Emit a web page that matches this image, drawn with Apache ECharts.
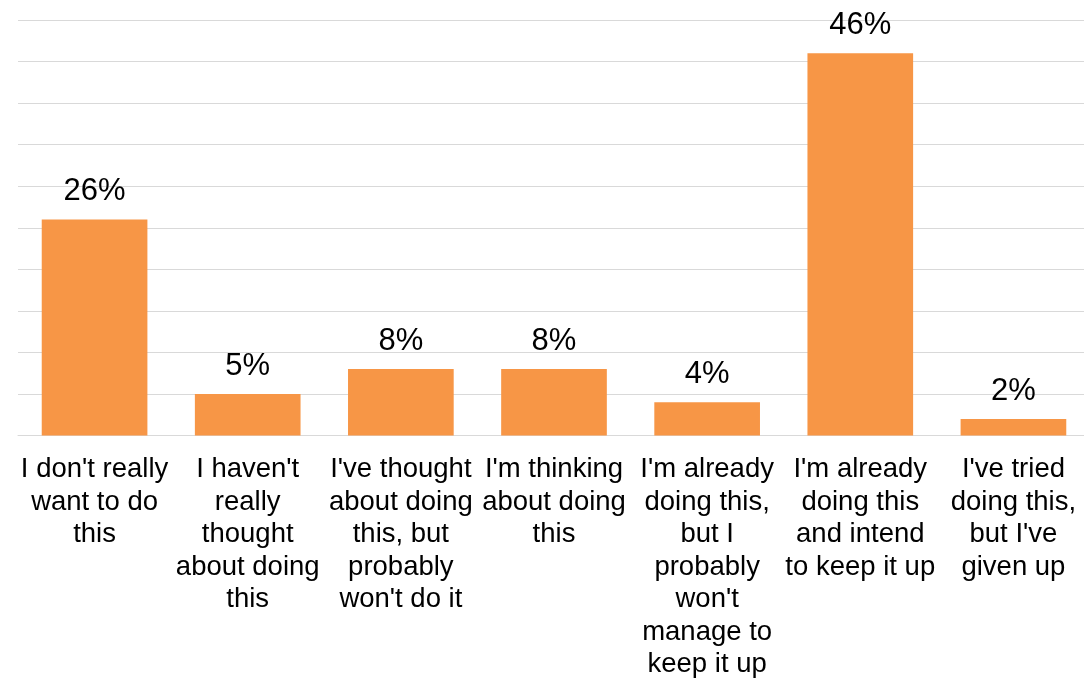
<!DOCTYPE html>
<html>
<head>
<meta charset="utf-8">
<script src="https://cdn.jsdelivr.net/npm/echarts@6/dist/echarts.min.js"></script>
<style>
  html, body { margin: 0; padding: 0; background: #ffffff; overflow: hidden; }
  /* the plot runs a few pixels past the right edge of the window */
  #chart { width: 1090px; height: 681px; }
</style>
</head>
<body>
<div id="chart"></div>
<script>
// Survey answers (wrapped onto several lines under each bar)
const categories = [
  "I don't really\nwant to do\nthis",
  "I haven't\nreally\nthought\nabout doing\nthis",
  "I've thought\nabout doing\nthis, but\nprobably\nwon't do it",
  "I'm thinking\nabout doing\nthis",
  "I'm already\ndoing this,\nbut I\nprobably\nwon't\nmanage to\nkeep it up",
  "I'm already\ndoing this\nand intend\nto keep it up",
  "I've tried\ndoing this,\nbut I've\ngiven up"
];
// Share of respondents, in percent
const shares = [26, 5, 8, 8, 4, 46, 2];

const chart = echarts.init(document.getElementById('chart'), null, { renderer: 'canvas' });
const font = "'Liberation Sans', Arial, Helvetica, sans-serif";

chart.setOption({
  animation: false,
  backgroundColor: '#ffffff',
  grid: { left: 18, right: 0, top: 20, height: 416, containLabel: false },
  xAxis: {
    type: 'category',
    data: categories,
    axisLine: { show: true, lineStyle: { color: '#d9d9d9', width: 1 } },
    axisTick: { show: false },
    axisLabel: {
      interval: 0,
      margin: 18,
      color: '#000000',
      fontFamily: font,
      fontSize: 27.5,
      lineHeight: 32.5
    }
  },
  yAxis: {
    type: 'value',
    min: 0,
    max: 50,
    interval: 5,
    axisLine: { show: false },
    axisTick: { show: false },
    axisLabel: { show: false },
    splitLine: { show: true, lineStyle: { color: '#d9d9d9', width: 1 } }
  },
  series: [{
    type: 'bar',
    data: shares,
    barCategoryGap: '31%',
    itemStyle: { color: '#F79646' },
    label: {
      show: true,
      position: 'top',
      distance: 12,
      formatter: '{c}%',
      color: '#000000',
      fontFamily: font,
      fontSize: 31
    }
  }]
});
</script>
</body>
</html>
